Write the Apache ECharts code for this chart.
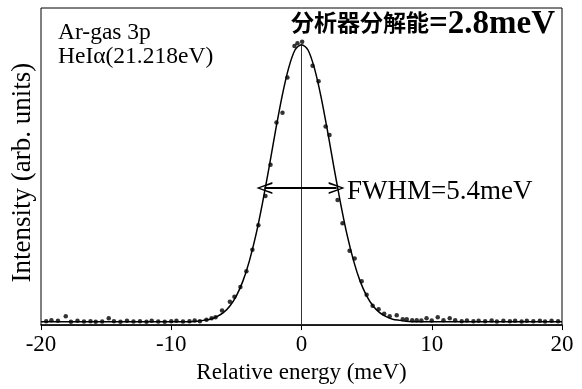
<!DOCTYPE html>
<html>
<head>
<meta charset="utf-8">
<script src="https://cdn.jsdelivr.net/npm/echarts@6/dist/echarts.min.js"></script>
<style>
html, body { margin: 0; padding: 0; background: #fff; }
#chart { width: 582px; height: 389px; }
</style>
</head>
<body>
<div id="chart"></div>
<script>
// measured points (relative energy in meV, intensity in arb. units)
var pointX = [-19.6, -19.2, -18.7, -18.1, -17.7, -17.2, -16.7, -16.2, -15.8, -15.3,
    -14.8, -14.4, -13.9, -13.4, -12.9, -12.4, -11.9, -11.5, -11.0, -10.5,
    -10.0, -9.6, -9.1, -8.6, -8.2, -7.8, -7.3, -6.9, -6.6, -6.1,
    -5.5, -5.15, -4.69, -4.23, -3.77, -3.31, -2.77, -2.38, -1.92, -1.46,
    -1.08, -0.54, -0.31, 0.05, 0.85, 1.31, 1.85, 2.15, 2.77, 3.15,
    3.69, 4.08, 4.62, 5.0, 5.46, 5.92, 6.35, 6.77, 7.31, 7.77,
    8.08, 8.5, 8.85, 9.2, 9.6, 10.0, 10.46, 10.9, 11.38, 11.8,
    12.3, 12.7, 13.2, 13.6, 14.1, 14.6, 15.0, 15.5, 16.0, 16.4,
    16.9, 17.3, 17.8, 18.3, 18.7, 19.2, 19.7];
var pointY = [0.014, 0.017, 0.015, 0.031, 0.012, 0.015, 0.013, 0.014, 0.012, 0.013,
    0.024, 0.014, 0.012, 0.015, 0.013, 0.014, 0.012, 0.015, 0.013, 0.012,
    0.014, 0.015, 0.013, 0.014, 0.016, 0.014, 0.019, 0.024, 0.028, 0.052,
    0.083, 0.101, 0.135, 0.191, 0.267, 0.354, 0.458, 0.569, 0.719, 0.753,
    0.878, 0.990, 1.000, 1.005, 0.920, 0.865, 0.705, 0.674, 0.444, 0.361,
    0.264, 0.236, 0.156, 0.108, 0.069, 0.056, 0.040, 0.031, 0.035, 0.021,
    0.021, 0.017, 0.017, 0.016, 0.024, 0.016, 0.028, 0.017, 0.024, 0.017,
    0.014, 0.016, 0.014, 0.015, 0.014, 0.016, 0.013, 0.015, 0.014, 0.015,
    0.013, 0.015, 0.014, 0.015, 0.013, 0.015, 0.014];

// fitted curve
var curveX = [-20, -10, -9, -8, -7.5, -7, -6.5, -6, -5.5, -5, -4.5, -4, -3.5, -3, -2.5, -2, -1.5, -1, -0.5,
    0, 0.5, 1, 1.5, 2, 2.5, 3, 3.5, 4, 4.5, 5, 5.5, 6, 6.5, 7, 7.5, 8, 9, 10, 20];
var curveY = [0.012, 0.012, 0.012, 0.014, 0.017, 0.021, 0.030, 0.044, 0.068, 0.104, 0.156, 0.228, 0.320, 0.432, 0.557, 0.688, 0.810, 0.910, 0.976,
    0.995, 0.976, 0.910, 0.810, 0.688, 0.557, 0.432, 0.320, 0.228, 0.156, 0.104, 0.068, 0.044, 0.030, 0.021, 0.017, 0.014, 0.012, 0.012, 0.012];

var peak = [0, 0.995];
var fwhmY = 0.486;
var fwhmLeft = -2.85;
var fwhmRight = 2.7;

var serif = '"Liberation Serif", "Times New Roman", serif';
var chevron = 'path://M5,0 L10,10 L8.4,10 L5,2.2 L1.6,10 L0,10 Z';

var chart = echarts.init(document.getElementById('chart'));

function zip(xs, ys) {
    return xs.map(function (x, i) { return [x, ys[i]]; });
}

chart.setOption({
    animation: false,
    backgroundColor: '#fff',
    grid: {
        left: 41, right: 20, top: 8, bottom: 57,
        show: true, borderColor: '#000', borderWidth: 1
    },
    xAxis: {
        type: 'value',
        min: -20, max: 20, interval: 10,
        name: 'Relative energy (meV)',
        nameLocation: 'middle',
        nameGap: 30,
        nameTextStyle: { fontFamily: serif, fontSize: 23, color: '#000' },
        axisLine: { show: true, lineStyle: { color: '#000', width: 1.5 } },
        axisTick: { show: true, length: 5, lineStyle: { color: '#000' } },
        axisLabel: { fontFamily: serif, fontSize: 23, color: '#000', margin: 8 },
        splitLine: { show: false }
    },
    yAxis: {
        type: 'value',
        min: 0, max: 1.125,
        name: 'Intensity (arb. units)',
        nameLocation: 'middle',
        nameGap: 5,
        nameTextStyle: { fontFamily: serif, fontSize: 27, color: '#000', padding: [0, 12, 0, 0] },
        axisLine: { show: false },
        axisTick: { show: false },
        axisLabel: { show: false },
        splitLine: { show: false }
    },
    series: [
        {
            type: 'line',
            data: zip(curveX, curveY),
            smooth: 0.3,
            showSymbol: false,
            lineStyle: { color: '#000', width: 1.5 },
            z: 3
        },
        {
            type: 'scatter',
            data: zip(pointX, pointY),
            symbolSize: 4.5,
            itemStyle: { color: '#000' },
            z: 4
        },
        {
            type: 'line',
            data: [[peak[0], 0], peak],
            showSymbol: false,
            lineStyle: { color: '#333', width: 1 },
            z: 2,
            markLine: {
                silent: true,
                symbol: [chevron, chevron],
                symbolSize: [12, 16],
                label: { show: false },
                lineStyle: { color: '#000', width: 2, type: 'solid' },
                data: [[{ coord: [fwhmLeft, fwhmY] }, { coord: [fwhmRight, fwhmY] }]]
            }
        }
    ],
    graphic: [
        {
            type: 'text', left: 58, top: 21,
            style: { text: 'Ar-gas 3p', font: '23.5px ' + serif, fill: '#000' }
        },
        {
            type: 'text', left: 58, top: 45,
            style: { text: 'HeIα(21.218eV)', font: '23.5px ' + serif, fill: '#000' }
        },
        {
            type: 'text', left: 291, top: 11,
            style: { text: '分析器分解能', font: 'bold 23px "Noto Sans CJK JP", sans-serif', fill: '#000' }
        },
        {
            type: 'text', left: 429, top: 8,
            style: { text: '=2.8meV', font: 'bold 33px ' + serif, fill: '#000' }
        },
        {
            type: 'text', left: 347, top: 178,
            style: { text: 'FWHM=5.4meV', font: '27px ' + serif, fill: '#000' }
        }
    ]
});
</script>
</body>
</html>
